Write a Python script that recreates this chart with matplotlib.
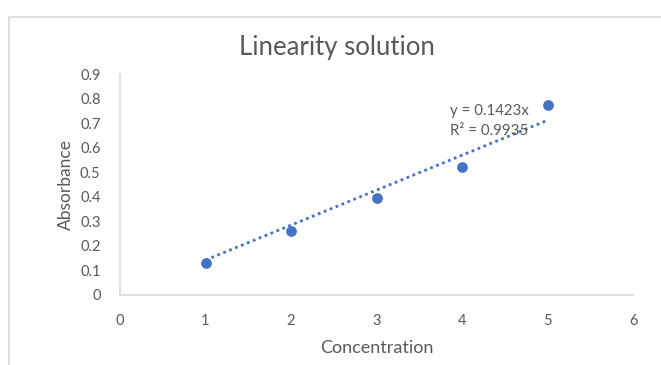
import matplotlib.pyplot as plt
from matplotlib.patches import Rectangle

# data
concentration = [1, 2, 3, 4, 5]
absorbance = [0.13, 0.262, 0.395, 0.52, 0.775]
slope = 0.1423
r2 = 0.9935

plt.rcParams['font.family'] = ['Lato', 'DejaVu Sans']
grey = '#595959'
blue = '#4472C4'

fig = plt.figure(figsize=(6.61, 3.65), dpi=100)
fig.patches.append(Rectangle((9/661, -0.2), 1.2, 1.2 - 17/365, transform=fig.transFigure,
                             fill=False, edgecolor='#d9d9d9', linewidth=1.2))
ax = fig.add_axes([120/661, 1 - 295/365, 513/661, 221/365])

# trendline through origin
tx = [concentration[0], concentration[-1]]
ty = [slope * v for v in tx]
ax.plot(tx, ty, color=blue, linestyle=(0, (1, 1.3)), linewidth=2)
ax.scatter(concentration, absorbance, color=blue, s=45, zorder=3)

ax.text(3.86, 0.749, 'y = %.4fx' % slope, fontsize=10.8, color=grey, va='center')
ax.text(3.86, 0.668, 'R² = %.4f' % r2, fontsize=10.8, color=grey, va='center')

ax.set_xlim(0, 6)
ax.set_ylim(0, 0.9)
ax.set_xticks(range(0, 7))
ax.set_yticks([i / 10 for i in range(10)])
ax.set_yticklabels(['0'] + ['%.1f' % (i / 10) for i in range(1, 10)])
ax.tick_params(length=0, labelsize=10.5, colors=grey)
ax.tick_params(axis='x', pad=14)
ax.tick_params(axis='y', pad=14)
for s in ['top', 'right']:
    ax.spines[s].set_visible(False)
for s in ['left', 'bottom']:
    ax.spines[s].set_color('#d9d9d9')
    ax.spines[s].set_linewidth(1.2)

ax.set_xlabel('Concentration', fontsize=13, color=grey, labelpad=8)
ax.set_ylabel('Absorbance', fontsize=12.5, color=grey, labelpad=4)
fig.text(337/661, 1 - 47/365, 'Linearity solution', fontsize=18.5, color=grey, ha='center', va='center')

fig.savefig('out.png', dpi=100)
